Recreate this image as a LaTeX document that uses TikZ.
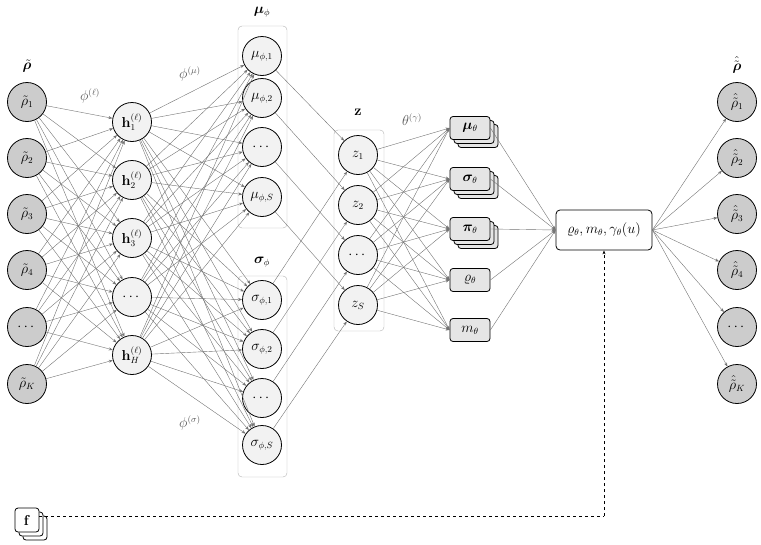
\documentclass[tikz,border=0pt]{standalone}
\usepackage{amsmath,bm}
\usetikzlibrary{arrows.meta}
\begin{document}
\begin{tikzpicture}[x=1pt,y=-1pt,font=\fontsize{13.5}{16}\selectfont,
 neur/.style={circle,draw,thick,minimum size=39pt,inner sep=0pt,fill=gray!10},
 inp/.style={neur,fill=gray!40},
 obox/.style={draw,thick,rounded corners=3pt,fill=gray!20,minimum width=40pt,minimum height=23pt,inner sep=1pt},
 grp/.style={draw=gray!60,rounded corners=4pt},
 conn/.style={draw=gray!90!black,thin,-{Stealth[length=4pt,width=3pt]}},
 lbl/.style={text=gray!70!black}]
\useasboundingbox (0,0) rectangle (761,544);
% groups
\draw[grp] (238,26) rectangle (287,228);
\draw[grp] (238,276) rectangle (287,477);
\draw[grp] (334,130) rectangle (384,331);
\node at (262,12) {$\bm{\mu}_\phi$};
\node at (262,262) {$\bm{\sigma}_\phi$};
\node at (358,112) {$\mathbf{z}$};
\node at (27,66) {$\tilde{\bm\rho}$};
\node at (737,65) {$\hat{\tilde{\bm\rho}}$};
\node[lbl] at (90,96) {$\phi^{(\ell)}$};
\node[lbl] at (190,74) {$\phi^{(\mu)}$};
\node[lbl] at (190,423) {$\phi^{(\sigma)}$};
\node[lbl] at (412,120) {$\theta^{(\gamma)}$};
% inputs
\foreach \n/\t/\y in {1/{\tilde\rho_1}/102,2/{\tilde\rho_2}/158,3/{\tilde\rho_3}/214,4/{\tilde\rho_4}/270,5/{\cdots}/327,6/{\tilde\rho_K}/384}
  \node[inp] (i\n) at (27,\y) {$\t$};
\foreach \n/\t/\y in {1/{\hat{\tilde\rho}_1}/102,2/{\hat{\tilde\rho}_2}/158,3/{\hat{\tilde\rho}_3}/214,4/{\hat{\tilde\rho}_4}/270,5/{\cdots}/327,6/{\hat{\tilde\rho}_K}/384}
  \node[inp] (o\n) at (737,\y) {$\t$};
\foreach \n/\t/\y in {1/{\mathbf h_1^{(\ell)}}/122,2/{\mathbf h_2^{(\ell)}}/180,3/{\mathbf h_3^{(\ell)}}/238,4/{\cdots}/297,5/{\mathbf h_H^{(\ell)}}/355}
  \node[neur] (h\n) at (132,\y) {$\t$};
\foreach \n/\t/\y in {1/{\mu_{\phi,1}}/56,2/{\mu_{\phi,2}}/98,3/{\cdots}/147,4/{\mu_{\phi,S}}/197}
  \node[neur] (m\n) at (262,\y) {$\t$};
\foreach \n/\t/\y in {1/{\sigma_{\phi,1}}/300,2/{\sigma_{\phi,2}}/349,3/{\cdots}/398,4/{\sigma_{\phi,S}}/445}
  \node[neur] (s\n) at (262,\y) {$\t$};
\foreach \n/\t/\y in {1/{z_1}/155,2/{z_2}/205,3/{\cdots}/255,4/{z_S}/305}
  \node[neur] (z\n) at (358,\y) {$\t$};
% stacked outputs
\foreach \n/\t/\y in {1/{\bm\mu_\theta}/128,2/{\bm\sigma_\theta}/179,3/{\bm\pi_\theta}/229}{
  \node[obox] at (478,\y+8) {};
  \node[obox] at (474,\y+4) {};
  \node[obox] (p\n) at (470,\y) {$\t$};}
\node[obox] (p4) at (470,280) {$\varrho_\theta$};
\node[obox] (p5) at (470,330) {$m_\theta$};
\node[draw,thick,rounded corners=4pt,fill=white,minimum width=96pt,minimum height=40pt,inner sep=2pt] (B) at (604,230) {$\varrho_\theta, m_\theta, \gamma_\theta(u)$};
% f
\node[obox,fill=white,minimum width=24pt,minimum height=24pt] at (35,528) {};
\node[obox,fill=white,minimum width=24pt,minimum height=24pt] at (31,524) {};
\node[obox,fill=white,minimum width=24pt,minimum height=24pt] (f) at (27,520) {$\mathbf f$};
\coordinate (fc) at (604,516);
\draw[thick,dashed] (f.east|-fc) -- (fc);
\draw[thick,dashed,-{Stealth[length=4pt,width=3pt]}] (fc) -- (B.south);
% connections
\foreach \i in {1,...,6}\foreach \j in {1,...,5} \draw[conn] (i\i) -- (h\j);
\foreach \i in {1,...,5}\foreach \j in {1,...,4} {\draw[conn] (h\i) -- (m\j); \draw[conn] (h\i) -- (s\j);}
\foreach \j in {1,...,4} {\draw[conn] (m\j) -- (z\j); \draw[conn] (s\j) -- (z\j);}
\foreach \i in {1,...,4}\foreach \j in {1,...,5} \draw[conn] (z\i) -- (p\j.west);
\foreach \j in {1,...,5} \draw[conn] (p\j.east) -- (B.west);
\foreach \j in {1,...,6} \draw[conn] (B.east) -- (o\j);
\end{tikzpicture}
\end{document}
